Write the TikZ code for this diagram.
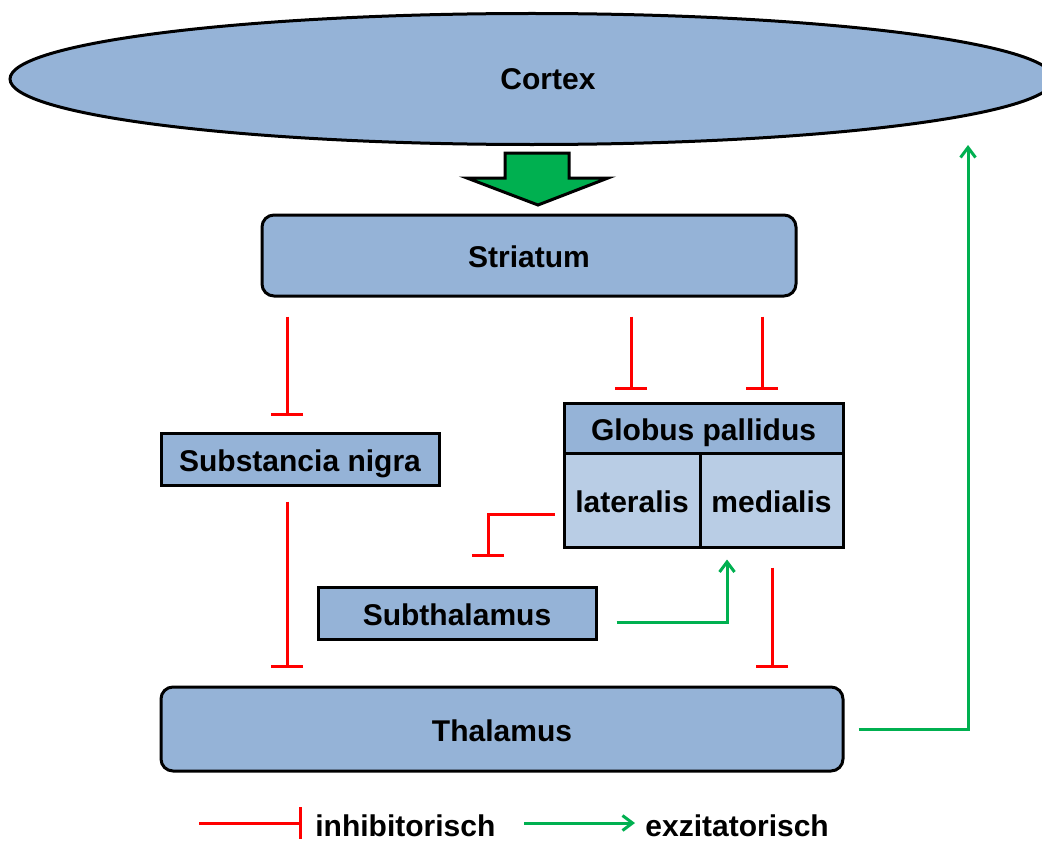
\documentclass[tikz,border=0pt]{standalone}
\usepackage{fontspec}
\setmainfont{Liberation Sans}
\usepackage[]{xcolor}
\usepackage{tikz}
\usetikzlibrary{arrows.meta,shapes.geometric}
\definecolor{boxblue}{HTML}{95B3D7}
\definecolor{boxlight}{HTML}{B9CDE5}
\definecolor{exgreen}{HTML}{00B050}
\definecolor{inred}{HTML}{FF0000}

\begin{document}
\begin{tikzpicture}[x=0.5pt,y=-0.5pt,
        font=\fontsize{15}{18}\selectfont\bfseries,
        region/.style={draw,line width=1.5pt,fill=boxblue,inner sep=0pt,text height=12pt,text depth=0pt},
        roundbox/.style={region,rounded corners=6pt},
        inhib/.style={inred,line width=1.5pt,-{Bar[width=16pt,line width=1.5pt]}},
        excit/.style={exgreen,line width=1.5pt,-{Straight Barb[length=5pt,width=7.5pt]}}]
        \clip (0,0) rectangle (1042,840);
        % cortex and the big arrow down
        \node[region,ellipse,minimum width=522pt,minimum height=65.5pt,
              label={[name=cortextxt,xshift=8pt,text height=11pt,text depth=0pt]center:Cortex}] (cortex) at (532,79) {};
        \draw[fill=exgreen,line width=1.5pt] (505,153) -- (569,153) -- (569,178) -- (608,178)
              -- (538,205) -- (467,178) -- (505,178) -- cycle;
        % boxes
        \node[roundbox,minimum width=267pt,minimum height=40.5pt] (striatum) at (529,255.5) {Striatum};
        \node[region,minimum width=139pt,minimum height=26pt]     (nigra)    at (300,459)   {Substancia nigra};
        \node[region,minimum width=139.5pt,minimum height=25pt]   (gphead)   at (703.5,428) {Globus pallidus};
        \node[region,fill=boxlight,minimum width=68pt,minimum height=47pt]   (lateralis) at (632,500)   {lateralis};
        \node[region,fill=boxlight,minimum width=71.5pt,minimum height=47pt] (medialis)  at (771.5,500) {medialis};
        \node[region,minimum width=139pt,minimum height=26pt]     (subthal)  at (457,613)   {Subthalamus};
        \node[roundbox,minimum width=341pt,minimum height=42pt]   (thalamus) at (502,729)   {Thalamus};
        % inhibitory paths
        \draw[inhib,shorten <=9.5pt,shorten >=8pt] ([xshift=-121pt]striatum.south) -- ([xshift=-6.5pt]nigra.north);
        \draw[inhib,shorten <=9.5pt,shorten >=6pt] ([xshift=51pt]striatum.south)   -- ([xshift=-36.25pt]gphead.north);
        \draw[inhib,shorten <=9.5pt,shorten >=6pt] ([xshift=116.5pt]striatum.south) -- ([xshift=29.25pt]gphead.north);
        \draw[inhib,shorten <=7.5pt,shorten >=9pt] ([xshift=-6.5pt]nigra.south)     -- ([xshift=-107.5pt]thalamus.north);
        \draw[inhib,shorten <=4pt,shorten >=14.5pt] ([yshift=-7pt]lateralis.west)   -| ([xshift=15.5pt]subthal.north);
        \draw[inhib,shorten <=9.5pt,shorten >=9pt] ([xshift=0.25pt]medialis.south) -- ([xshift=135pt]thalamus.north);
        % excitatory paths
        \coordinate (ctxin) at (968,145);
        \draw[excit,shorten <=9.5pt,shorten >=5.5pt] ([yshift=-4.5pt]subthal.east) -| ([xshift=-22.25pt]medialis.south);
        \draw[excit,shorten <=7pt] (thalamus.east) -| (ctxin);
        % legend
        \node[anchor=west,inner sep=0pt] (inhtxt) at (315,826) {inhibitorisch};
        \node[anchor=west,inner sep=0pt] (exctxt) at (645,826) {exzitatorisch};
        \draw[inhib] ([xshift=-58pt,yshift=1.5pt]inhtxt.west)   -- ([xshift=-6.5pt,yshift=1.5pt]inhtxt.west);
        \draw[excit] ([xshift=-60.5pt,yshift=1.5pt]exctxt.west) -- ([xshift=-5pt,yshift=1.5pt]exctxt.west);
\end{tikzpicture}
\end{document}
